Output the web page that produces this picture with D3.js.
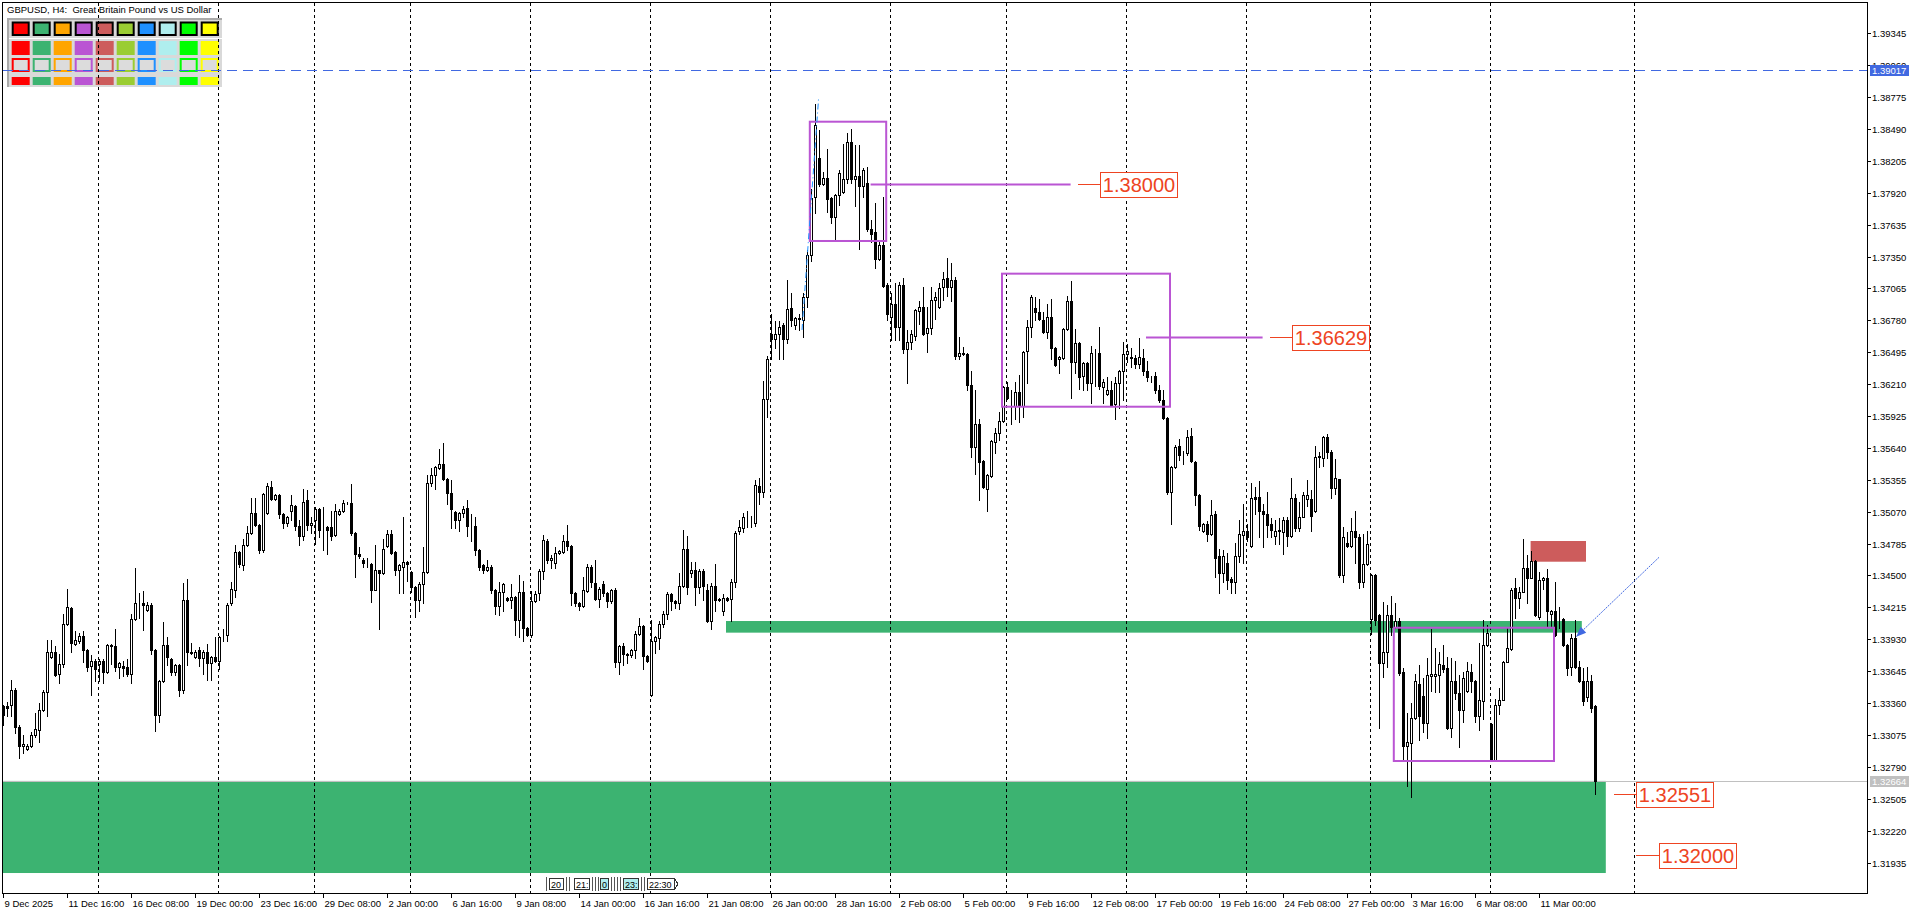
<!DOCTYPE html>
<html>
<head>
<meta charset="utf-8">
<script src="https://cdn.jsdelivr.net/npm/d3@7"></script>
<style>
  html, body { margin: 0; padding: 0; background: #fff; overflow: hidden; }
  svg text { font-family: "Liberation Sans", Arial, sans-serif; }
</style>
</head>
<body>
<div id="chart"></div>
<script>
// GBPUSD H4 candles, prices in pips above 1.3000 (1 unit = 0.0001)
const opens = [
  333,333,334,348,315,298,295,298,307,312, 330,346,377,382,362,371,407,421,389,391,
  396,383,369,374,371,374,364,388,387,368, 369,368,362,411,425,425,419,424,383,325,
  356,388,375,364,370,348,428,382,377,383, 376,382,372,377,374,396,397,425,437,471,
  459,477,488,506,495,473,506,529,518,522, 505,497,508,512,494,485,517,495,500,509,
  491,493,493,486,505,508,515,515,488,469, 464,461,460,437,455,452,476,487,471,455,
  458,462,453,440,428,442,453,533,540,546, 550,536,524,507,500,506,510,494,494,473,
  459,455,458,437,423,435,430,428,431,410, 435,403,397,427,434,454,481,464,461,470,
  471,481,476,434,425,423,436,458,443,429, 442,434,427,437,373,387,380,379,383,398,
  405,378,343,391,394,407,416,433,427,425, 441,474,452,455,440,454,437,409,441,428,
  418,430,429,444,490,492,497,497,497,530, 525,608,666,661,666,674,661,689,674,679,
  678,699,736,788,823,800,805,787,770,790, 793,804,837,804,807,798,801,760,757,733,
  745,710,681,693,672,710,652,659,664,686, 690,667,671,696,690,708,716,708,714,646,
  649,648,620,565,585,552,527,539,569,577, 588,618,600,601,614,601,651,672,689,685,
  678,668,681,653,643,644,670,695,641,658, 628,640,622,649,649,618,612,616,603,622,
  633,648,645,644,639,644,633,627,628,616, 607,591,525,547,566,559,559,575,551,522,
  490,496,487,505,467,452,461,447,444,467, 486,490,476,520,520,508,505,496,485,490,
  489,500,485,519,492,502,518,518,508,556, 555,574,560,528,536,450,479,476,490,484,
  444,460,411,450,415,372,382,415,404,409, 364,298,300,323,353,342,318,360,360,361,
  370,367,314,356,345,330,347,364,356,324, 338,388,317,285,334,339,373,384,439,430,
  435,457,448,463,413,446,448,416,418,411, 411,388,368,394,368,356,341,356,333
];
const highs = [
  334,337,357,349,316,307,299,310,327,336, 348,392,392,387,380,416,438,422,400,399,
  400,384,379,375,375,375,389,389,402,373, 374,375,416,457,434,436,426,425,384,357,
  408,395,376,371,371,443,447,390,383,386, 383,389,378,395,396,402,425,444,477,472,
  483,494,519,519,496,524,533,534,523,523, 506,503,522,513,500,527,526,502,511,510,
  511,494,508,514,509,517,516,532,489,475, 466,466,461,477,455,483,491,491,472,460,
  502,463,454,441,444,475,540,546,548,563, 568,537,535,508,507,512,517,505,502,474,
  460,464,459,438,444,443,431,442,432,450, 445,404,436,436,456,486,483,468,475,473,
  486,495,477,435,426,449,460,459,464,440, 445,435,438,439,388,390,381,384,400,412,
  406,379,410,396,409,418,435,434,428,452, 491,485,462,462,456,456,442,443,460,430,
  433,431,447,490,500,506,508,503,535,537, 624,646,684,677,677,676,714,702,681,684,
  702,741,795,871,848,811,831,788,791,812, 836,845,849,835,835,814,815,768,783,749,
  788,711,702,711,712,716,669,669,688,695, 708,690,708,703,711,721,734,729,717,663,
  654,649,633,616,590,553,541,571,582,596, 619,623,616,623,629,651,678,701,699,697,
  685,693,697,654,646,671,700,713,670,659, 641,641,655,652,672,626,627,624,627,634,
  659,657,653,647,662,652,642,628,632,620, 616,592,548,567,572,561,580,582,552,523,
  497,499,517,508,474,473,470,449,479,500, 514,496,533,529,534,514,525,501,500,501,
  502,502,537,523,516,525,535,526,566,560, 575,576,562,554,536,493,489,501,508,487,
  487,490,451,451,416,426,424,432,425,412, 367,327,336,362,370,358,376,402,385,382,
  388,377,376,374,361,364,373,371,357,390, 410,406,318,340,349,374,403,439,448,440,
  483,468,472,464,453,449,456,419,444,422, 412,389,398,410,374,367,368,361,334
];
const lows = [
  316,324,324,309,287,291,294,297,306,301, 329,324,376,360,354,368,406,382,388,390,
  373,365,343,356,356,354,363,371,365,358, 360,360,354,410,412,401,418,380,311,319,
  355,370,361,361,342,345,370,380,376,369, 362,357,357,373,366,391,391,424,431,458,
  455,476,487,494,470,471,505,517,517,501, 492,494,500,491,477,482,491,488,478,484,
  473,469,482,485,504,507,514,486,449,466, 458,458,426,437,402,451,475,469,450,434,
  434,445,435,413,418,425,452,530,527,545, 535,514,492,492,490,502,485,481,468,455,
  452,454,434,416,415,418,427,421,397,395, 391,396,395,426,428,447,461,457,457,469,
  470,473,424,423,419,422,435,440,428,422, 432,422,425,368,362,370,372,377,376,397,
  366,373,342,381,384,404,411,419,421,420, 440,433,449,424,434,428,408,402,418,427,
  415,427,409,440,487,489,493,493,494,514, 520,592,643,653,643,643,658,673,670,669,
  663,690,731,774,798,799,775,765,750,781, 792,801,801,780,742,788,758,748,725,732,
  708,678,660,660,660,649,622,652,660,675, 665,650,666,679,689,696,700,695,643,643,
  647,616,556,541,517,528,508,538,559,571, 587,608,585,590,587,592,622,663,678,678,
  667,662,643,637,631,643,669,609,631,617, 616,616,604,619,617,604,611,601,590,600,
  607,641,636,635,635,629,624,623,613,605, 590,523,496,546,553,550,558,551,513,491,
  489,481,486,449,434,444,438,434,434,462, 461,481,475,505,484,475,484,484,478,478,
  469,476,484,490,490,502,512,490,507,547, 548,555,519,523,449,444,475,475,461,439,
  440,459,398,406,314,359,368,397,403,361, 285,262,252,322,303,310,305,347,346,346,
  364,313,306,340,297,319,346,346,319,312, 322,387,284,285,326,339,373,383,412,421,
  435,425,448,414,411,438,404,404,396,403, 387,361,361,367,355,334,338,328,255
];
const closes = [
  325,332,348,315,298,299,298,307,313,330, 346,382,382,361,371,407,422,390,392,396,
  383,368,374,366,374,364,388,387,368,372, 367,362,411,425,425,424,424,383,325,356,
  388,377,364,370,348,428,382,381,382,376, 382,372,377,374,395,396,424,438,471,460,
  477,488,506,495,473,523,530,518,522,505, 497,502,513,494,485,516,495,497,509,491,
  491,491,485,508,508,515,515,488,469,467, 461,461,437,455,452,474,487,470,455,459,
  462,460,440,428,442,453,533,540,547,550, 536,524,509,500,506,509,494,494,473,458,
  455,458,437,423,435,442,428,431,410,435, 403,397,427,433,454,482,464,466,470,472,
  481,476,434,425,423,437,458,444,429,438, 434,427,437,373,387,380,379,383,398,405,
  378,374,391,395,407,416,433,427,425,441, 474,440,455,440,454,441,409,441,428,429,
  430,428,444,488,493,502,497,497,531,525, 608,643,661,666,672,661,688,678,680,680,
  699,736,787,853,800,805,786,770,790,810, 804,837,804,807,798,812,760,755,733,745,
  709,684,693,672,710,652,659,666,687,690, 666,671,696,699,707,715,708,714,646,649,
  648,620,565,585,551,529,540,570,577,588, 618,609,600,614,601,650,672,699,685,679,
  668,681,653,638,645,670,695,641,658,627, 640,622,649,649,619,623,616,602,622,633,
  648,651,644,639,645,633,627,627,616,607, 591,525,547,565,558,559,574,552,522,494,
  496,487,504,466,452,467,446,444,467,487, 490,484,519,518,508,505,495,491,490,491,
  500,485,519,492,502,522,522,503,556,557, 574,560,528,537,450,484,476,490,484,444,
  460,478,450,410,372,382,415,404,409,363, 298,301,323,356,324,318,361,362,362,371,
  366,314,356,345,330,358,365,356,324,339, 388,399,285,334,339,373,385,437,430,435,
  457,448,463,415,446,448,418,418,397,411, 388,367,394,368,356,338,356,332,266
];
const BASE = 1.3, PIP = 0.0001;

// axis labels
const priceTicks = [1.31935,1.32220,1.32505,1.32790,1.33075,1.33360,1.33645,1.33930,1.34215,
  1.34500,1.34785,1.35070,1.35355,1.35640,1.35925,1.36210,1.36495,1.36780,1.37065,1.37350,
  1.37635,1.37920,1.38205,1.38490,1.38775,1.39060,1.39345];
const timeLabels = ["9 Dec 2025","11 Dec 16:00","16 Dec 08:00","19 Dec 00:00","23 Dec 16:00",
  "29 Dec 08:00","2 Jan 00:00","6 Jan 16:00","9 Jan 08:00","14 Jan 00:00","16 Jan 16:00",
  "21 Jan 08:00","26 Jan 00:00","28 Jan 16:00","2 Feb 08:00","5 Feb 00:00","9 Feb 16:00",
  "12 Feb 08:00","17 Feb 00:00","19 Feb 16:00","24 Feb 08:00","27 Feb 00:00","3 Mar 16:00",
  "6 Mar 08:00","11 Mar 00:00"];
const timeLabelBars = timeLabels.map((d, i) => 1 + 16 * i);
// first bar of each week (period separators)
const weekStarts = [25,55,79,103,133,163,193,223,252,282,312,343,373,409];

// chart objects (bar index, price)
const filledZones = [
  { from: 0.75, to: 401.7, top: 1.32664, bottom: 1.31841, color: "#3CB371" },
  { from: 181.75, to: 395.7, top: 1.34093, bottom: 1.33989, color: "#3CB371" },
  { from: 382.9, to: 396.75, top: 1.34808, bottom: 1.34623, color: "#CD5C5C" }
];
const boxes = [
  { from: 202.7, to: 221.8, top: 1.38555, bottom: 1.37489 },
  { from: 250.75, to: 292.75, top: 1.37197, bottom: 1.36008 },
  { from: 348.7, to: 388.75, top: 1.34033, bottom: 1.32842 }
];
const levels = [
  { price: 1.38000, lineFrom: 217.9, lineTo: 267.9, tagFrom: 269.75, tagTo: 275.25 },
  { price: 1.36629, lineFrom: 286.75, lineTo: 315.9, tagFrom: 317.75, tagTo: 323.25 },
  { price: 1.32551, lineFrom: null, lineTo: null, tagFrom: 403.75, tagTo: 409.25 },
  { price: 1.32000, lineFrom: null, lineTo: null, tagFrom: 409.25, tagTo: 415 }
];
const askPrice = 1.39017, bidPrice = 1.32664;
const trendLine = { x1: 200.75, p1: 1.36694, x2: 204.9, p2: 1.38764 };
const arrowLine = { x1: 415, p1: 1.34662, x2: 394.3, p2: 1.33953 };
const paletteColors = ["#FF0000","#3CB371","#FFA500","#BA55D3","#CD5C5C",
  "#9ACD32","#1E90FF","#AFEEEE","#00FF00","#FFFF00"];

const W = 1920, H = 915;
const pL = 3, pT = 3, pR = 1867, pB = 893;

const bars = opens.map((o, i) => ({
  i: i + 1,
  o: BASE + o * PIP, h: BASE + highs[i] * PIP,
  l: BASE + lows[i] * PIP, c: BASE + closes[i] * PIP
}));

const x = d3.scaleLinear().domain([1, 467]).range([3, 1867]);
const y = d3.scaleLinear().domain([1.31935, 1.39345]).range([862.5, 33.3]);

const svg = d3.select("#chart").append("svg")
  .attr("width", W).attr("height", H)
  .style("display", "block")
  .style("background", "#fff");

svg.append("defs").append("clipPath").attr("id", "plot")
  .append("rect").attr("x", pL).attr("y", pT)
  .attr("width", pR - pL).attr("height", pB - pT);

// palette panel (top-left)
const pal = svg.append("g");
pal.append("rect").attr("x", 7).attr("y", 18).attr("width", 215).attr("height", 69).attr("fill", "#D9D9D9");
pal.append("rect").attr("x", 7).attr("y", 18).attr("width", 215).attr("height", 2).attr("fill", "#AAAAAA");
pal.append("rect").attr("x", 7).attr("y", 18).attr("width", 2).attr("height", 69).attr("fill", "#AAAAAA");
pal.append("rect").attr("x", 9).attr("y", 38).attr("width", 213).attr("height", 1).attr("fill", "#fff");
paletteColors.forEach((col, i) => {
  const cx = 11.7 + 21 * i;
  pal.append("rect").attr("x", cx + 1).attr("y", 22.5).attr("width", 16).attr("height", 12.5)
    .attr("fill", col).attr("stroke", "#000").attr("stroke-width", 2);
  pal.append("rect").attr("x", cx).attr("y", 41).attr("width", 18).attr("height", 14).attr("fill", col);
  pal.append("rect").attr("x", cx + 1).attr("y", 59).attr("width", 16).attr("height", 12)
    .attr("fill", "#DCDCDC").attr("stroke", col).attr("stroke-width", 2);
  pal.append("rect").attr("x", cx).attr("y", 77).attr("width", 18).attr("height", 8).attr("fill", col);
});

const plot = svg.append("g").attr("clip-path", "url(#plot)");

// filled zones
plot.selectAll("rect.zone").data(filledZones).enter().append("rect")
  .attr("class", "zone")
  .attr("x", d => x(d.from)).attr("width", d => x(d.to) - x(d.from))
  .attr("y", d => y(d.top)).attr("height", d => y(d.bottom) - y(d.top))
  .attr("fill", d => d.color);

// weekly separators
plot.selectAll("line.sep").data(weekStarts).enter().append("line")
  .attr("x1", d => Math.round(x(d)) - 0.5).attr("x2", d => Math.round(x(d)) - 0.5)
  .attr("y1", pT).attr("y2", pB)
  .attr("stroke", "#000").attr("stroke-width", 1).attr("stroke-dasharray", "3,3");

// ask / bid lines
plot.append("line").attr("x1", pL).attr("x2", pR)
  .attr("y1", Math.round(y(askPrice)) + 0.5).attr("y2", Math.round(y(askPrice)) + 0.5)
  .attr("stroke", "#4169E1").attr("stroke-dasharray", "10,6");
plot.append("line").attr("x1", pL).attr("x2", pR)
  .attr("y1", Math.round(y(bidPrice)) + 0.5).attr("y2", Math.round(y(bidPrice)) + 0.5)
  .attr("stroke", "#C0C0C0");

// candles
const cg = plot.append("g").attr("shape-rendering", "crispEdges");
cg.selectAll("line.wick").data(bars).enter().append("line")
  .attr("x1", d => x(d.i) + 0.5).attr("x2", d => x(d.i) + 0.5)
  .attr("y1", d => Math.round(y(d.h))).attr("y2", d => Math.round(y(d.l)) + 1)
  .attr("stroke", "#000");
cg.selectAll("rect.body").data(bars).enter().append("rect")
  .attr("x", d => x(d.i) - 0.5)
  .attr("y", d => Math.round(y(Math.max(d.o, d.c))) + 0.5)
  .attr("width", 2)
  .attr("height", d => Math.max(0, Math.round(y(Math.min(d.o, d.c))) - Math.round(y(Math.max(d.o, d.c)))))
  .attr("fill", d => d.c >= d.o ? "#fff" : "#000")
  .attr("stroke", "#000").attr("stroke-width", 1);

// purple boxes
plot.selectAll("rect.box").data(boxes).enter().append("rect")
  .attr("x", d => x(d.from)).attr("width", d => x(d.to) - x(d.from))
  .attr("y", d => y(d.top)).attr("height", d => y(d.bottom) - y(d.top))
  .attr("fill", "none").attr("stroke", "#BA55D3").attr("stroke-width", 2);

// levels with price tags
const tagColor = "#EE4422";
levels.forEach(lv => {
  const py = Math.round(y(lv.price)) + 0.5;
  if (lv.lineFrom !== null) {
    plot.append("line").attr("x1", x(lv.lineFrom)).attr("x2", x(lv.lineTo))
      .attr("y1", py).attr("y2", py).attr("stroke", "#BA55D3").attr("stroke-width", 2);
  }
  plot.append("line").attr("x1", x(lv.tagFrom)).attr("x2", x(lv.tagTo))
    .attr("y1", py).attr("y2", py).attr("stroke", tagColor);
  const bx = x(lv.tagTo);
  plot.append("rect").attr("x", Math.round(bx) + 0.5).attr("y", Math.round(py - 13) + 0.5)
    .attr("width", 77).attr("height", 25)
    .attr("fill", "#fff").attr("stroke", tagColor);
  plot.append("text").attr("x", bx + 39).attr("y", py + 7.5)
    .attr("text-anchor", "middle").attr("font-size", 20).attr("fill", tagColor)
    .text(lv.price.toFixed(5));
});

// trend line in the rally
plot.append("line")
  .attr("x1", x(trendLine.x1)).attr("y1", y(trendLine.p1))
  .attr("x2", x(trendLine.x2)).attr("y2", y(trendLine.p2))
  .attr("stroke", "#1E90FF").attr("stroke-dasharray", "6,3,1,3");

// arrow
const ax1 = x(arrowLine.x1), ay1 = y(arrowLine.p1), ax2 = x(arrowLine.x2), ay2 = y(arrowLine.p2);
plot.append("line").attr("x1", ax1).attr("y1", ay1).attr("x2", ax2).attr("y2", ay2)
  .attr("stroke", "#4169E1").attr("stroke-dasharray", "2,1");
const ang = Math.atan2(ay2 - ay1, ax2 - ax1), hl = 10, hw = 4;
const bxh = ax2 - hl * Math.cos(ang), byh = ay2 - hl * Math.sin(ang);
plot.append("path")
  .attr("d", `M${ax2},${ay2}L${bxh - hw * Math.sin(ang)},${byh + hw * Math.cos(ang)}L${bxh + hw * Math.sin(ang)},${byh - hw * Math.cos(ang)}Z`)
  .attr("fill", "#4169E1");

// frame
const fr = svg.append("g").attr("shape-rendering", "crispEdges");
fr.append("line").attr("x1", 2.5).attr("x2", 2.5).attr("y1", 2).attr("y2", pB + 1).attr("stroke", "#000");
fr.append("line").attr("x1", 2).attr("x2", pR + 1).attr("y1", 2.5).attr("y2", 2.5).attr("stroke", "#000");
fr.append("line").attr("x1", pR + 0.5).attr("x2", pR + 0.5).attr("y1", 2).attr("y2", pB + 1).attr("stroke", "#000");
fr.append("line").attr("x1", 2).attr("x2", pR + 1).attr("y1", pB + 0.5).attr("y2", pB + 0.5).attr("stroke", "#000");

// price axis
const yAxisG = svg.append("g");
priceTicks.forEach(p => {
  const ty = Math.round(y(p)) + 0.5;
  yAxisG.append("line").attr("x1", pR).attr("x2", pR + 4).attr("y1", ty).attr("y2", ty)
    .attr("stroke", "#000").attr("shape-rendering", "crispEdges");
  yAxisG.append("text").attr("x", pR + 5).attr("y", ty + 3.5)
    .attr("font-size", 9.5).attr("fill", "#000").text(p.toFixed(5));
});
[[askPrice, "#4169E1"], [bidPrice, "#C0C0C0"]].forEach(([p, col]) => {
  const ty = Math.round(y(p));
  yAxisG.append("rect").attr("x", pR + 3).attr("y", ty - 5).attr("width", 39).attr("height", 11).attr("fill", col);
  yAxisG.append("text").attr("x", pR + 5).attr("y", ty + 4)
    .attr("font-size", 9.5).attr("fill", "#fff").text(p.toFixed(5));
});

// time axis
const xAxisG = svg.append("g");
timeLabelBars.forEach((b, i) => {
  const tx = Math.round(x(b)) + 0.5;
  xAxisG.append("line").attr("x1", tx).attr("x2", tx).attr("y1", pB).attr("y2", pB + 5)
    .attr("stroke", "#000").attr("shape-rendering", "crispEdges");
  xAxisG.append("text").attr("x", tx + 1).attr("y", 907)
    .attr("font-size", 9.5).attr("fill", "#000").text(timeLabels[i]);
});

// small separator tags near the bottom
const sepTags = [
  { t: "20", x0: 549, x1: 563, bg: "#fff" },
  { t: "21:", x0: 574, x1: 589, bg: "#fff" },
  { t: "0", x0: 600, x1: 608, bg: "#AFEEEE" },
  { t: "23:", x0: 623, x1: 638, bg: "#AFEEEE" },
  { t: "22:30", x0: 647, x1: 674, bg: "#fff" }
];
const st = svg.append("g").attr("shape-rendering", "crispEdges");
[546, 566, 569, 592, 595, 598, 611, 614, 617, 620, 641, 644].forEach(lx => {
  st.append("line").attr("x1", lx + 0.5).attr("x2", lx + 0.5).attr("y1", 877).attr("y2", 891).attr("stroke", "#555");
});
sepTags.forEach(s => {
  st.append("rect").attr("x", s.x0 + 0.5).attr("y", 878.5).attr("width", s.x1 - s.x0).attr("height", 11)
    .attr("fill", s.bg).attr("stroke", "#333");
  st.append("text").attr("x", s.x0 + 2).attr("y", 887.5).attr("font-size", 9).attr("fill", "#000").text(s.t);
});
st.append("path").attr("d", "M674.5,878.5L678,884L674.5,889.5").attr("fill", "none").attr("stroke", "#333");

// title
svg.append("text").attr("x", 7).attr("y", 13).attr("font-size", 9.5).attr("fill", "#000")
  .style("white-space", "pre").text("GBPUSD, H4:  Great Britain Pound vs US Dollar");
</script>
</body>
</html>
